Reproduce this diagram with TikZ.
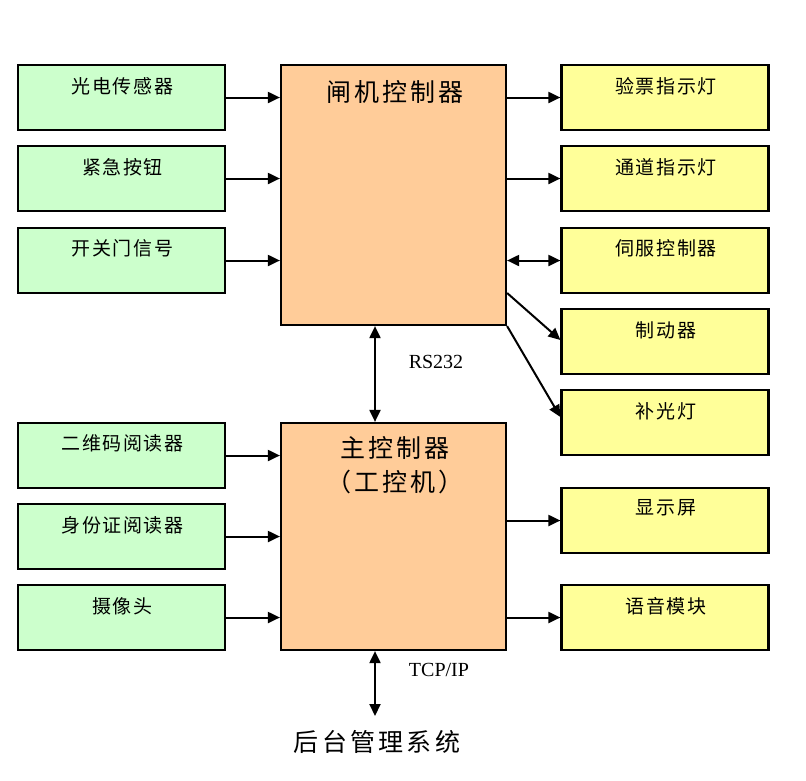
\documentclass[tikz,border=0pt]{standalone}
\usepackage{fontspec}
\setmainfont{Liberation Serif}
\newfontfamily\cjk{Noto Sans CJK SC}
\usetikzlibrary{arrows.meta,calc}
\definecolor{gfill}{HTML}{CCFFCC}
\definecolor{ofill}{HTML}{FFCC99}
\definecolor{yfill}{HTML}{FFFF99}
\begin{document}
\begin{tikzpicture}[x=1pt,y=-1pt,
  box/.style={draw=black,line width=2.2pt,minimum width=207pt,minimum height=65pt,inner sep=0pt},
  inbox/.style={box,fill=gfill},
  outbox/.style={box,fill=yfill},
  ctrl/.style={draw=black,line width=2.2pt,fill=ofill,minimum width=225pt,inner sep=0pt},
  txt/.style={font=\cjk\addfontfeature{LetterSpace=8}\fontsize{19}{21}\selectfont,inner sep=0pt},
  big/.style={font=\cjk\addfontfeature{LetterSpace=12}\fontsize{25}{34}\selectfont,inner sep=0pt,align=center},
  lat/.style={font=\fontsize{20}{22}\selectfont,inner sep=0pt},
  arr/.style={line width=2pt,-{Triangle[length=12pt,width=11pt]}},
  darr/.style={line width=2pt,{Triangle[length=12pt,width=11pt]}-{Triangle[length=12pt,width=11pt]}}]
\useasboundingbox (0,0) rectangle (806,780);
\fill[white] (0,0) rectangle (806,780);
% controllers
\node[ctrl,minimum height=260pt] (gate) at (393.5,195) {};
\node[ctrl,minimum height=227pt] (main) at (393.5,536.5) {};
\node[big] at (395,92) {闸机控制器};
\node[big] at (395,465) {主控制器\\（工控机）};
% left inputs
\node[inbox] (g1) at (121.5,97.5) {};
\node[inbox] (g2) at (121.5,178.5) {};
\node[inbox] (g3) at (121.5,260.5) {};
\node[inbox] (m1) at (121.5,455.5) {};
\node[inbox] (m2) at (121.5,536.5) {};
\node[inbox] (m3) at (121.5,617.5) {};
\node[txt] at (122.5,86) {光电传感器};
\node[txt] at (122.5,167) {紧急按钮};
\node[txt] at (122.5,248) {开关门信号};
\node[txt] at (122.5,443) {二维码阅读器};
\node[txt] at (122.5,525) {身份证阅读器};
\node[txt] at (122.5,606) {摄像头};
% right outputs
\node[outbox] (r1) at (665,97.5) {};
\node[outbox] (r2) at (665,178.5) {};
\node[outbox] (r3) at (665,260.5) {};
\node[outbox] (r4) at (665,341.5) {};
\node[outbox] (r5) at (665,422.5) {};
\node[outbox] (r6) at (665,520.5) {};
\node[outbox] (r7) at (665,617.5) {};
\node[txt] at (666,86) {验票指示灯};
\node[txt] at (666,167) {通道指示灯};
\node[txt] at (666,248) {伺服控制器};
\node[txt] at (666,330) {制动器};
\node[txt] at (666,411) {补光灯};
\node[txt] at (666,508) {显示屏};
\node[txt] at (666,606) {语音模块};
% input arrows
\foreach \n in {g1,g2,g3} \draw[arr] (\n.east) -- (gate.west |- \n.east);
\foreach \n in {m1,m2,m3} \draw[arr] (\n.east) -- (main.west |- \n.east);
% output arrows
\draw[arr] (gate.east |- r1.west) -- (r1.west);
\draw[arr] (gate.east |- r2.west) -- (r2.west);
\draw[darr] (gate.east |- r3.west) -- (r3.west);
\draw[arr] ([yshift=-98pt]gate.east) -- ([yshift=1.5pt]r4.west);
\draw[arr] (gate.south east) -- ([yshift=5.5pt]r5.west);
\draw[arr] (main.east |- r6.west) -- (r6.west);
\draw[arr] (main.east |- r7.west) -- (r7.west);
% vertical links
\coordinate (gb) at (375,325);
\draw[darr] (gate.south -| gb) -- (main.north -| gb);
\node[lat] (rs) at (436,362) {RS232};
\node[font=\cjk\addfontfeature{LetterSpace=13}\fontsize{25}{30}\selectfont,inner sep=0pt] (bk) at (377,742) {后台管理系统};
\coordinate (bt) at (375,716);
\draw[darr] (main.south -| gb) -- (bt);
\node[lat] (tcp) at (439,670) {TCP/IP};
\end{tikzpicture}
\end{document}
